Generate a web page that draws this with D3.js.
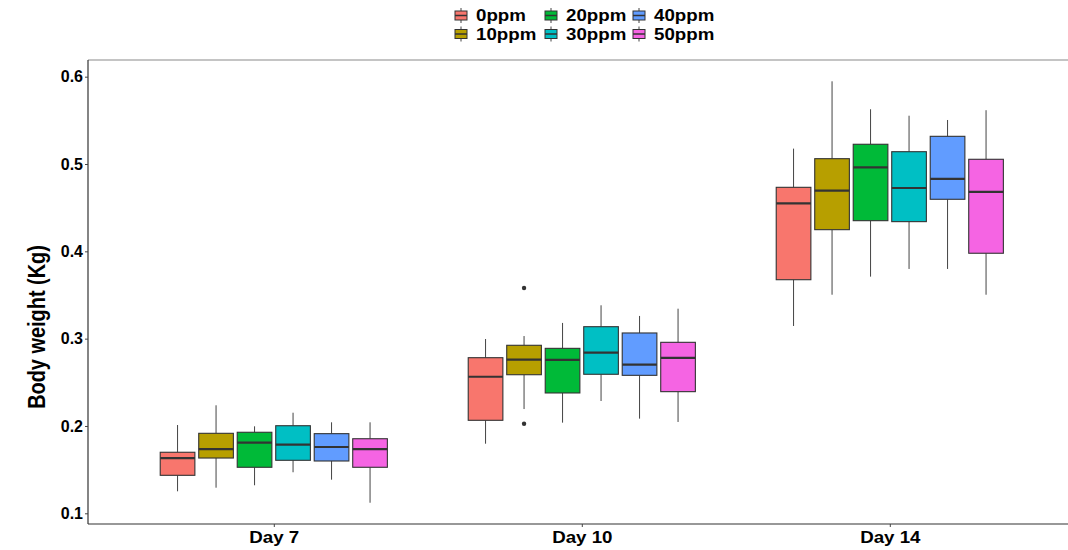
<!DOCTYPE html>
<html><head><meta charset="utf-8">
<script src="https://cdn.jsdelivr.net/npm/d3@7"></script>
<style>body{margin:0;background:#fff}svg{display:block}</style></head>
<body>
<svg id="c" width="1068" height="550"></svg>
<script>
const days = ["Day 7", "Day 10", "Day 14"];
const doses = ["0ppm", "10ppm", "20ppm", "30ppm", "40ppm", "50ppm"];
const colors = ["#F8766D", "#B79F00", "#00BA38", "#00BFC4", "#619CFF", "#F564E3"];
// per dose: [lower whisker, Q1, median, Q3, upper whisker]
const day7 = [
  [0.1252, 0.1435, 0.1633, 0.1699, 0.2011],
  [0.1293, 0.1633, 0.1736, 0.1916, 0.2237],
  [0.1321, 0.1527, 0.1809, 0.1928, 0.1996],
  [0.1470, 0.1607, 0.1786, 0.2003, 0.2152],
  [0.1385, 0.1599, 0.1759, 0.1912, 0.2042],
  [0.1121, 0.1527, 0.1736, 0.1854, 0.2042]
];
const day10 = [
  [0.1797, 0.2065, 0.2564, 0.2782, 0.2996],
  [0.2194, 0.2587, 0.2759, 0.2924, 0.3030],
  [0.2038, 0.2378, 0.2756, 0.2889, 0.3180],
  [0.2286, 0.2592, 0.2839, 0.3137, 0.3382],
  [0.2084, 0.2580, 0.2702, 0.3065, 0.3260],
  [0.2046, 0.2393, 0.2779, 0.2958, 0.3343]
];
const day14 = [
  [0.3145, 0.3675, 0.4550, 0.4733, 0.5176],
  [0.3503, 0.4248, 0.4695, 0.5061, 0.5947],
  [0.3710, 0.4351, 0.4962, 0.5226, 0.5627],
  [0.3798, 0.4340, 0.4725, 0.5141, 0.5553],
  [0.3798, 0.4596, 0.4829, 0.5317, 0.5504],
  [0.3503, 0.3978, 0.4680, 0.5054, 0.5616]
];
// outliers: [day index, dose index, value]
const outliers = [[1, 1, 0.358], [1, 1, 0.2026]];
const yTicks = [0.1, 0.2, 0.3, 0.4, 0.5, 0.6];

const stats = [day7, day10, day14];
const svg = d3.select("#c");
const L = 88, T = 60, B = 524;
const FONT = "'Liberation Sans', Arial, sans-serif";

const x = d3.scaleLinear().domain([0.4, 3.6]).range([89, 89 + 3.2 * 308]);
const y = d3.scaleLinear().domain([0.08775, 0.6191]).range([B, T]);
const slot = 0.75 / doses.length;
const bw = slot * 0.9;
const px = (di, gi) => x(di + 1 + (gi - (doses.length - 1) / 2) * slot);

// panel lines
svg.append("line").attr("x1", L).attr("x2", 1068).attr("y1", T).attr("y2", T)
  .attr("stroke", "#8a8a8a").attr("stroke-width", 1.2);
svg.append("line").attr("x1", L).attr("x2", L).attr("y1", T).attr("y2", B)
  .attr("stroke", "#333").attr("stroke-width", 1.2);
svg.append("line").attr("x1", L).attr("x2", 1068).attr("y1", B).attr("y2", B)
  .attr("stroke", "#333").attr("stroke-width", 1.2);

// y axis
const ya = svg.append("g").attr("transform", `translate(${L},0)`)
  .call(d3.axisLeft(y).tickValues(yTicks).tickFormat(d3.format(".1f")).tickSize(3).tickPadding(2));
ya.select(".domain").remove();
ya.selectAll("line").attr("stroke", "#444");
ya.selectAll("text").attr("font-family", FONT).attr("font-weight", "bold")
  .attr("font-size", 16).attr("fill", "#000");

// x axis (labels slightly widened like the reference)
const xa = svg.append("g").attr("transform", `translate(0,${B})`)
  .call(d3.axisBottom(x).tickValues([1, 2, 3]).tickFormat((d) => days[d - 1]).tickSize(3).tickPadding(5));
xa.select(".domain").remove();
xa.selectAll("line").attr("stroke", "#444");
xa.selectAll(".tick text").each(function () {
  const t = d3.select(this);
  const yy = +t.attr("y");
  t.attr("y", null).attr("transform", `translate(0,${yy}) scale(1.2,1)`);
}).attr("font-family", FONT).attr("font-weight", "bold")
  .attr("font-size", 15.6).attr("fill", "#000");

// y title (taller glyphs, compressed along the text like the reference)
svg.append("text").attr("transform", "translate(45,327) rotate(-90) scale(0.83,1)")
  .attr("text-anchor", "middle").attr("font-family", FONT).attr("font-weight", "bold")
  .attr("font-size", 24).attr("fill", "#000").text("Body weight (Kg)");

// boxes
const g = svg.append("g");
stats.forEach((dayStats, di) => {
  dayStats.forEach((s, gi) => {
    const cx = px(di, gi);
    const w = x(bw) - x(0);
    g.append("line").attr("x1", cx).attr("x2", cx).attr("y1", y(s[4])).attr("y2", y(s[3]))
      .attr("stroke", "#444").attr("stroke-width", 1);
    g.append("line").attr("x1", cx).attr("x2", cx).attr("y1", y(s[1])).attr("y2", y(s[0]))
      .attr("stroke", "#444").attr("stroke-width", 1);
    g.append("rect").attr("x", cx - w / 2).attr("width", w)
      .attr("y", y(s[3])).attr("height", y(s[1]) - y(s[3]))
      .attr("fill", colors[gi]).attr("stroke", "#333").attr("stroke-width", 1.1);
    g.append("line").attr("x1", cx - w / 2).attr("x2", cx + w / 2)
      .attr("y1", y(s[2])).attr("y2", y(s[2]))
      .attr("stroke", "#333").attr("stroke-width", 2.2);
  });
});
outliers.forEach(([di, gi, v]) => {
  g.append("circle").attr("cx", px(di, gi)).attr("cy", y(v)).attr("r", 2.2).attr("fill", "#333");
});

// legend (filled by column, 2 rows)
const colX = [455, 545, 633];
const rowY = [15.5, 34];
const leg = svg.append("g");
doses.forEach((d, i) => {
  const c = Math.floor(i / 2), r = i % 2;
  const kx = colX[c], ky = rowY[r];
  const kw = 12, kh = 9;
  leg.append("line").attr("x1", kx + kw / 2).attr("x2", kx + kw / 2)
    .attr("y1", ky - kh / 2 - 3).attr("y2", ky + kh / 2 + 3).attr("stroke", "#444").attr("stroke-width", 1);
  leg.append("rect").attr("x", kx).attr("y", ky - kh / 2).attr("width", kw).attr("height", kh)
    .attr("fill", colors[i]).attr("stroke", "#333").attr("stroke-width", 1);
  leg.append("line").attr("x1", kx).attr("x2", kx + kw).attr("y1", ky).attr("y2", ky)
    .attr("stroke", "#333").attr("stroke-width", 1.5);
  leg.append("text").attr("transform", `translate(${kx + 21},${ky}) scale(1.17,1)`)
    .attr("dy", "0.36em")
    .attr("font-family", FONT).attr("font-weight", "bold").attr("font-size", 16)
    .attr("fill", "#000").text(d);
});
</script>
</body></html>
